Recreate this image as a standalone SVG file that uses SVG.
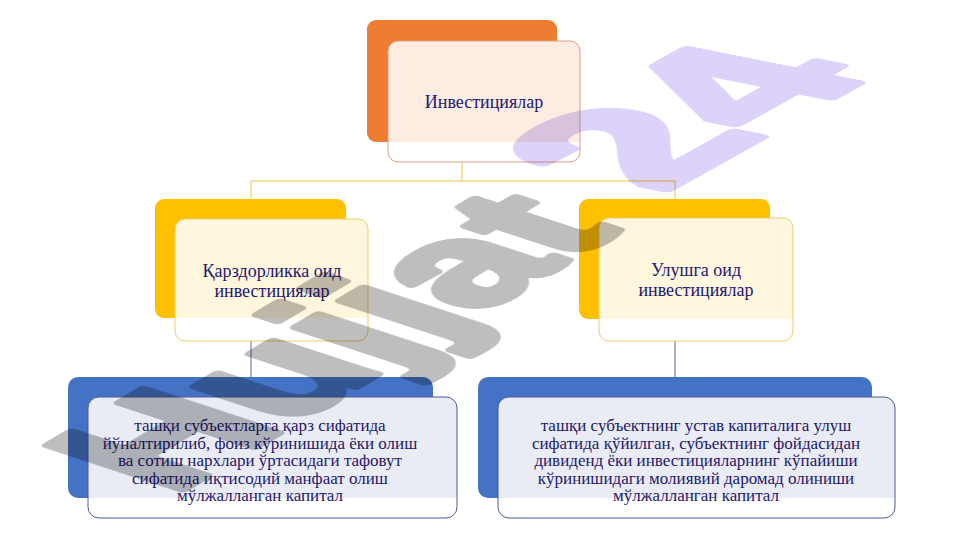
<svg xmlns="http://www.w3.org/2000/svg" width="960" height="540" viewBox="0 0 960 540">
<defs>
<style>
.lbl{font-family:"Liberation Serif","Times New Roman",serif;font-size:18px;fill:#1E1870;text-anchor:middle}
.sm{font-size:17px}
.conY{stroke:#F2C443;stroke-width:1;fill:none}
.conB{stroke:#5A6A99;stroke-width:1;fill:none}
.front{fill:none;stroke-width:1}
.wm{font-family:"Liberation Sans",Arial,sans-serif;font-weight:bold;font-size:100px;stroke-width:5;stroke-linejoin:round}
</style>
</defs>
<rect width="960" height="540" fill="#ffffff"/>
<g id="connectors">
<path class="conY" d="M462,162 V181 H251 V200"/>
<path class="conY" d="M462,181 H675 V200"/>
<path class="conB" d="M251,341 V377"/>
<path class="conB" d="M675,320 V377"/>
</g>
<g id="node-top">
<rect x="367" y="20" width="190" height="122" rx="9" fill="#ED7D31"/>
<rect x="388" y="41" width="192" height="121" rx="10" fill="#ffffff"/>
<path d="M388,142 V51 A10,10 0 0 1 398,41 H570 A10,10 0 0 1 580,51 V142 Z" fill="#FCECE1"/>
<rect class="front" x="388" y="41" width="192" height="121" rx="10" stroke="#D9A286"/>
<text class="lbl" x="484" y="108">Инвестициялар</text>
</g>
<g id="node-debt">
<rect x="155" y="199" width="191" height="119" rx="9" fill="#FFC000"/>
<rect x="175" y="219" width="193" height="122" rx="10" fill="#ffffff"/>
<path d="M175,318 V229 A10,10 0 0 1 185,219 H358 A10,10 0 0 1 368,229 V318 Z" fill="#FFF6DE"/>
<rect class="front" x="175" y="219" width="193" height="122" rx="10" stroke="#EDCB6A"/>
<text class="lbl" x="272" y="277">Қарздорликка оид</text>
<text class="lbl" x="272" y="297">инвестициялар</text>
</g>
<g id="node-equity">
<rect x="579" y="199" width="191" height="120" rx="9" fill="#FFC000"/>
<rect x="599" y="218" width="194" height="123" rx="10" fill="#ffffff"/>
<path d="M599,319 V228 A10,10 0 0 1 609,218 H783 A10,10 0 0 1 793,228 V319 Z" fill="#FFF6DE"/>
<rect class="front" x="599" y="218" width="194" height="123" rx="10" stroke="#EDCB6A"/>
<text class="lbl" x="696" y="276">Улушга оид</text>
<text class="lbl" x="696" y="296">инвестициялар</text>
</g>
<g id="node-debt-desc">
<rect x="68" y="377" width="365" height="121" rx="10" fill="#4472C4"/>
<rect x="88" y="397" width="369" height="121" rx="11" fill="#ffffff"/>
<path d="M88,498 V408 A11,11 0 0 1 99,397 H446 A11,11 0 0 1 457,408 V498 Z" fill="#E9EBF5"/>
<rect class="front" x="88" y="397" width="369" height="121" rx="11" stroke="#4A5A96"/>
<text class="lbl sm" x="260" y="431">ташқи субъектларга қарз сифатида</text>
<text class="lbl sm" x="260" y="448.5">йўналтирилиб, фоиз кўринишида ёки олиш</text>
<text class="lbl sm" x="260" y="466">ва сотиш нархлари ўртасидаги тафовут</text>
<text class="lbl sm" x="260" y="483.5">сифатида иқтисодий манфаат олиш</text>
<text class="lbl sm" x="260" y="501">мўлжалланган капитал</text>
</g>
<g id="node-equity-desc">
<rect x="478" y="377" width="394" height="121" rx="10" fill="#4472C4"/>
<rect x="498" y="397" width="397" height="121" rx="11" fill="#ffffff"/>
<path d="M498,498 V408 A11,11 0 0 1 509,397 H884 A11,11 0 0 1 895,408 V498 Z" fill="#E9EBF5"/>
<rect class="front" x="498" y="397" width="397" height="121" rx="11" stroke="#4A5A96"/>
<text class="lbl sm" x="696" y="431">ташқи субъектнинг устав капиталига улуш</text>
<text class="lbl sm" x="696" y="448.5">сифатида қўйилган, субъектнинг фойдасидан</text>
<text class="lbl sm" x="696" y="466">дивиденд ёки инвестицияларнинг кўпайиши</text>
<text class="lbl sm" x="696" y="483.5">кўринишидаги молиявий даромад олиниши</text>
<text class="lbl sm" x="696" y="501">мўлжалланган капитал</text>
</g>
<g id="watermark" style="mix-blend-mode:multiply">
<text class="wm" fill="#BEBEBE" stroke="#BEBEBE" transform="matrix(1.62 -0.96 1.95 0.64 172 496)" x="0" y="0">Hujjat</text>
<text class="wm" fill="#DCD2FA" stroke="#DCD2FA" transform="matrix(1.94 -1.08 2.5 0.5 661 193)" x="0" y="0">24</text>
</g>
</svg>
